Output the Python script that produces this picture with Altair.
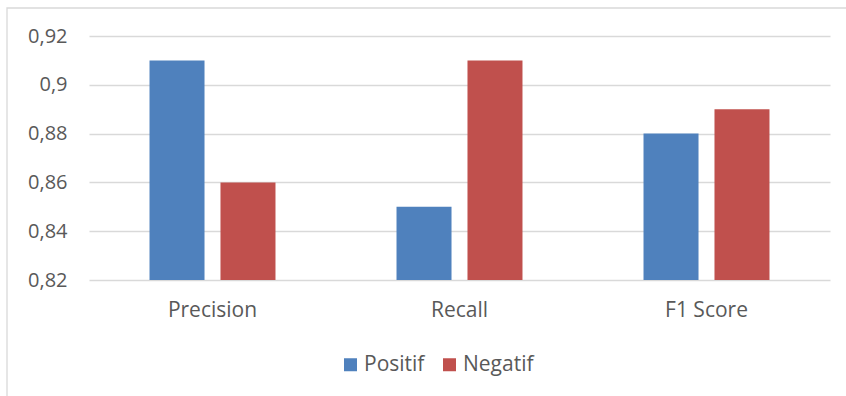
import altair as alt
import pandas as pd

categories = ["Precision", "Recall", "F1 Score"]
series = ["Positif", "Negatif"]
positif = [0.91, 0.85, 0.88]
negatif = [0.86, 0.91, 0.89]
y_ticks = [0.82, 0.84, 0.86, 0.88, 0.90, 0.92]
colors = ["#4F81BD", "#C0504D"]

rows = []
for c, p, n in zip(categories, positif, negatif):
    rows.append({"cat": c, "serie": "Positif", "val": p})
    rows.append({"cat": c, "serie": "Negatif", "val": n})
df = pd.DataFrame(rows)

FONT = "Open Sans"
GRAY = "#595959"

bars = alt.Chart(df).mark_bar().encode(
    x=alt.X("cat:N", sort=categories, title=None,
            scale=alt.Scale(paddingInner=0.49, paddingOuter=0.245),
            axis=alt.Axis(labelAngle=0, labelFont=FONT, labelFontSize=21, labelColor=GRAY,
                          labelPadding=19, ticks=False, domain=False, grid=False)),
    xOffset=alt.XOffset("serie:N", sort=series,
                        scale=alt.Scale(paddingInner=0.225, paddingOuter=0)),
    y=alt.Y("val:Q", title=None,
            scale=alt.Scale(domain=[0.82, 0.92], zero=False, nice=False),
            axis=alt.Axis(values=y_ticks, labelExpr="replace(format(datum.value, '.2~f'), '.', ',')",
                          labelFont=FONT, labelFontSize=20, labelColor=GRAY, labelPadding=22,
                          ticks=False, domain=False, grid=True, gridColor="#D9D9D9", gridWidth=1.3)),
    y2=alt.datum(0.82),
    color=alt.Color("serie:N", sort=series,
                    scale=alt.Scale(domain=series, range=colors),
                    legend=alt.Legend(title=None, orient="none", direction="horizontal",
                                      legendX=251, legendY=318, symbolType="square",
                                      symbolSize=169, symbolStrokeWidth=0, labelFont=FONT,
                                      labelFontSize=21, labelColor=GRAY, labelOffset=3,
                                      columnPadding=14)),
)

frame = alt.Chart(pd.DataFrame({"a": [0]})).mark_rect(
    fill=None, stroke="#D9D9D9", strokeWidth=1.3
).encode(
    x=alt.value(-82), x2=alt.value(800), y=alt.value(-28), y2=alt.value(420)
)

chart = alt.layer(frame, bars).properties(
    width=741, height=244,
    background="white",
    autosize=alt.AutoSizeParams(type="none"),
    padding={"left": 89, "top": 36, "right": 16, "bottom": 116},
).configure_view(stroke="transparent", strokeWidth=0)

chart.save("out.html", embed_options={"renderer": "svg", "actions": False})
